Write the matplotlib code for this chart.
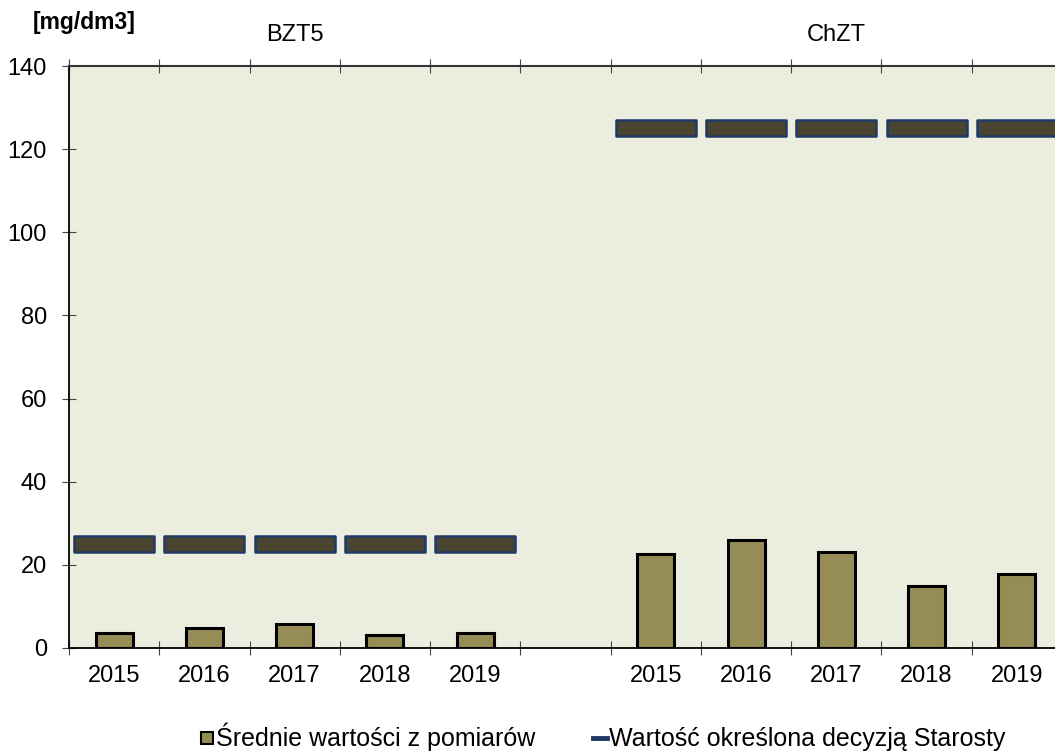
import matplotlib
matplotlib.use("Agg")
import matplotlib.pyplot as plt
import numpy as np
from matplotlib.path import Path
from matplotlib.lines import Line2D
from matplotlib.ticker import FixedLocator, NullFormatter
import matplotlib.transforms as mtransforms

plt.rcParams['font.family'] = ['Liberation Sans', 'DejaVu Sans']

# ---- data ----
groups = ["BZT5", "ChZT"]
years = ["2015", "2016", "2017", "2018", "2019"]
measured_bzt5 = [3.6, 4.8, 5.8, 3.2, 3.5]
measured_chzt = [22.7, 25.9, 23.1, 15.0, 17.9]
limit_bzt5 = [25, 25, 25, 25, 25]
limit_chzt = [125, 125, 125, 125, 125]
y_ticks = [0, 20, 40, 60, 80, 100, 120, 140]
unit_label = "[mg/dm3]"
legend_labels = ["Średnie wartości z pomiarów", "Wartość określona decyzją Starosty"]

# ---- styles ----
bar_color = "#968C55"
limit_fill = "#4A4530"
limit_edge = "#1F3A68"
bg_color = "#EBEEDE"
FS = 17

pos_bzt5 = np.arange(len(years))
pos_chzt = np.arange(len(years)) + len(years) + 1
n_slots = 2 * len(years) + 1

fig = plt.figure(figsize=(10.55, 7.52), dpi=100)
ax = fig.add_axes([69 / 1055, 104 / 752, (1062 - 69) / 1055, (648 - 66) / 752])
ax.set_facecolor(bg_color)

measured = list(measured_bzt5) + list(measured_chzt)
limits = list(limit_bzt5) + list(limit_chzt)
positions = list(pos_bzt5) + list(pos_chzt)

ax.bar(positions, measured, width=0.41, color=bar_color, edgecolor="black",
       linewidth=2.2, zorder=3)

rect = Path([(-1, -0.2), (1, -0.2), (1, 0.2), (-1, 0.2), (-1, -0.2)],
            [Path.MOVETO, Path.LINETO, Path.LINETO, Path.LINETO, Path.CLOSEPOLY])
ax.plot(positions, limits, linestyle="none", marker=rect, markersize=58,
        markerfacecolor=limit_fill, markeredgecolor=limit_edge,
        markeredgewidth=1.8, zorder=4, clip_on=False)

ax.set_xlim(-0.5, n_slots - 0.5)
ax.set_ylim(0, 140)
ax.set_yticks(y_ticks)
ax.set_xticks(positions)
ax.set_xticklabels(years * 2)
ax.xaxis.set_minor_locator(FixedLocator(np.arange(n_slots + 1) - 0.5))
ax.xaxis.set_minor_formatter(NullFormatter())

ax.tick_params(axis="x", which="major", length=0, labelsize=FS, pad=12)
ax.tick_params(axis="x", which="minor", direction="inout", length=10,
               width=0.8, color="#444444", top=True, bottom=True)
ax.tick_params(axis="y", which="major", direction="inout", length=10,
               width=0.8, color="#444444", labelsize=FS, pad=11)

for s in ["left", "bottom"]:
    ax.spines[s].set_linewidth(1.3)
ax.spines["top"].set_linewidth(1.5)
ax.spines["top"].set_color("#333333")
ax.spines["right"].set_visible(False)

# group labels on top
trans = mtransforms.blended_transform_factory(ax.transData, ax.transAxes)
offset = mtransforms.ScaledTranslation(0, 31 / 100, fig.dpi_scale_trans)
centers = [np.mean(pos_bzt5), np.mean(pos_chzt)]
for g, c in zip(groups, centers):
    ax.text(c, 1.0, g, transform=trans + offset, ha="center", va="center",
            fontsize=FS, clip_on=False)

fig.text(33 / 1055, 1 - 22 / 752, unit_label, fontsize=16.5, fontweight="bold",
         ha="left", va="center")

handles = [
    Line2D([], [], linestyle="none", marker="s", markersize=8.5,
           markerfacecolor=bar_color, markeredgecolor="black", markeredgewidth=1.5),
    Line2D([], [], color=limit_edge, linewidth=3.5),
]
leg = fig.legend(handles, legend_labels, loc="center", ncol=2,
                 bbox_to_anchor=(603 / 1055, 1 - 737 / 752), frameon=False,
                 fontsize=18, handlelength=0.55, handletextpad=0.1,
                 columnspacing=2.3)

fig.savefig("out.png", dpi=100)
